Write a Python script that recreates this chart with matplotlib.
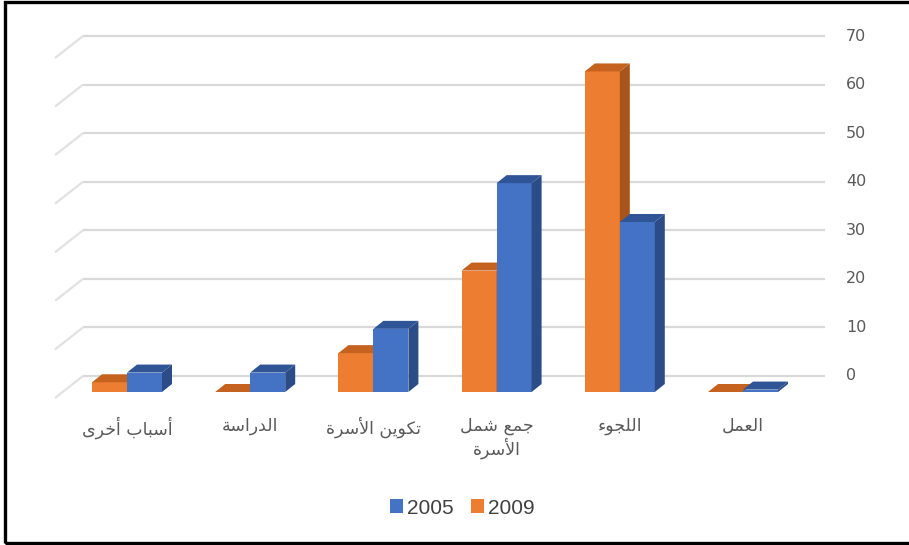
import matplotlib
matplotlib.use("Agg")
import matplotlib.pyplot as plt
from matplotlib.patches import Polygon, Patch, Rectangle

# reasons for migration, values in percent
categories = ['أسباب أخرى', 'الدراسة', 'تكوين الأسرة', 'جمع شمل\nالأسرة', 'اللجوء', 'العمل']
years = ['2005', '2009']
values_2005 = [4, 4, 13, 43, 35, 0.5]
values_2009 = [2, 0, 8, 25, 66, 0]
y_ticks = [0, 10, 20, 30, 40, 50, 60, 70]

# arabic presentation forms: isolated, final, initial, medial
FORMS = {
    'ء': ('\uFE80',),
    'أ': ('\uFE83', '\uFE84'),
    'ا': ('\uFE8D', '\uFE8E'),
    'ب': ('\uFE8F', '\uFE90', '\uFE91', '\uFE92'),
    'ة': ('\uFE93', '\uFE94'),
    'ت': ('\uFE95', '\uFE96', '\uFE97', '\uFE98'),
    'ج': ('\uFE9D', '\uFE9E', '\uFE9F', '\uFEA0'),
    'خ': ('\uFEA5', '\uFEA6', '\uFEA7', '\uFEA8'),
    'د': ('\uFEA9', '\uFEAA'),
    'ر': ('\uFEAD', '\uFEAE'),
    'س': ('\uFEB1', '\uFEB2', '\uFEB3', '\uFEB4'),
    'ش': ('\uFEB5', '\uFEB6', '\uFEB7', '\uFEB8'),
    'ع': ('\uFEC9', '\uFECA', '\uFECB', '\uFECC'),
    'ك': ('\uFED9', '\uFEDA', '\uFEDB', '\uFEDC'),
    'ل': ('\uFEDD', '\uFEDE', '\uFEDF', '\uFEE0'),
    'م': ('\uFEE1', '\uFEE2', '\uFEE3', '\uFEE4'),
    'ن': ('\uFEE5', '\uFEE6', '\uFEE7', '\uFEE8'),
    'و': ('\uFEED', '\uFEEE'),
    'ى': ('\uFEEF', '\uFEF0'),
    'ي': ('\uFEF1', '\uFEF2', '\uFEF3', '\uFEF4'),
}
LAM_ALEF = {'ا': ('\uFEFB', '\uFEFC'), 'أ': ('\uFEF7', '\uFEF8')}


def shape_line(line):
    units = []
    i = 0
    while i < len(line):
        c = line[i]
        if c == 'ل' and i + 1 < len(line) and line[i + 1] in LAM_ALEF:
            units.append(LAM_ALEF[line[i + 1]])
            i += 2
        else:
            units.append(FORMS.get(c, (c,)))
            i += 1
    out = []
    for k, f in enumerate(units):
        prev = units[k - 1] if k > 0 else None
        nxt = units[k + 1] if k + 1 < len(units) else None
        join_prev = prev is not None and len(prev) == 4 and len(f) >= 2
        join_next = len(f) == 4 and nxt is not None and len(nxt) >= 2
        if join_prev and join_next:
            g = f[3]
        elif join_prev:
            g = f[1]
        elif join_next:
            g = f[2]
        else:
            g = f[0]
        out.append(g)
    return ''.join(reversed(out))


def shape(text):
    return '\n'.join(shape_line(l) for l in text.split('\n'))


W, H = 909, 545
px_cat = 123.2      # pixels per category
px_unit = 4.857     # pixels per value unit
x0_px = 127
base_px = 392

bar_w = 35 / px_cat
ddx = 10 / px_cat
ddy = 8 / px_unit
wall_dy = 16 / px_unit
wall_left = (83 - x0_px) / px_cat
wall_right = (825 - x0_px) / px_cat
floor_dx = -28 / px_cat
floor_dy = -22 / px_unit

fig = plt.figure(figsize=(W / 100, H / 100), dpi=100)
ax = fig.add_axes([0, 0, 1, 1])
ax.set_xlim(-x0_px / px_cat, (W - x0_px) / px_cat)
ax.set_ylim(-(H - base_px) / px_unit, base_px / px_unit)
ax.axis('off')

for t in y_ticks:
    yy = t + wall_dy
    ax.plot([wall_left + floor_dx, wall_left], [yy + floor_dy, yy],
            color='#E2E2E2', lw=1.6, zorder=1, solid_capstyle='butt')
    ax.plot([wall_left, wall_right], [yy, yy],
            color='#D9D9D9', lw=1.6, zorder=1, solid_capstyle='butt')
    ax.text((846 - x0_px) / px_cat, yy, str(t), ha='left', va='center',
            fontsize=11.5, color='#595959', family='DejaVu Sans')


def bar3d(x, v, front, top, side):
    ax.add_patch(Polygon([(x, 0), (x + bar_w, 0), (x + bar_w, v), (x, v)],
                         closed=True, fc=front, ec='none', zorder=3))
    ax.add_patch(Polygon([(x + bar_w, 0), (x + bar_w + ddx, ddy),
                          (x + bar_w + ddx, v + ddy), (x + bar_w, v)],
                         closed=True, fc=side, ec='none', zorder=3))
    ax.add_patch(Polygon([(x, v), (x + bar_w, v), (x + bar_w + ddx, v + ddy), (x + ddx, v + ddy)],
                         closed=True, fc=top, ec='none', zorder=3))


orange = ('#ED7D31', '#C5621F', '#A9541B')
blue = ('#4472C4', '#2F5597', '#2B4C87')

for i, cat in enumerate(categories):
    bar3d(i - bar_w, values_2009[i], *orange)
    bar3d(i, values_2005[i], *blue)
    ax.text(i, (base_px - 417) / px_unit, shape(cat), ha='center', va='top',
            fontsize=12.5, color='#595959', family='DejaVu Sans', linespacing=1.15)

handles = [Patch(fc=blue[0], ec='none'), Patch(fc=orange[0], ec='none')]
leg = fig.legend(handles, years, loc='center', bbox_to_anchor=(462 / W, 1 - 508 / H),
                 ncol=2, frameon=False, handlelength=0.65, handleheight=0.65,
                 handletextpad=0.15, columnspacing=0.85,
                 prop={'family': 'Liberation Sans', 'size': 15})
for t in leg.get_texts():
    t.set_color('#404040')

# outer frame, right edge runs off the canvas
fig.add_artist(Rectangle((5 / W, 2 / H), 915 / W, 541 / H, transform=fig.transFigure,
                         fill=False, ec='black', lw=2.4))

fig.savefig('out.png', dpi=100)
